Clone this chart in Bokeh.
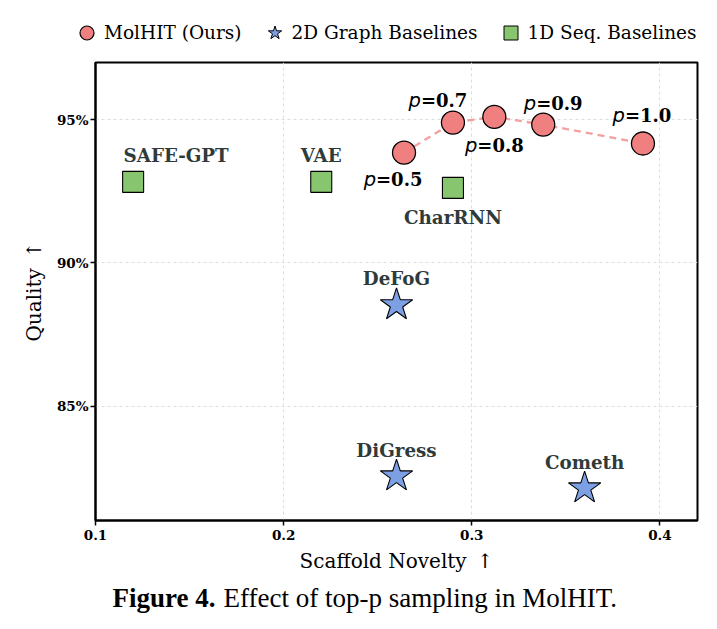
from bokeh.plotting import figure
from bokeh.layouts import column, row
from bokeh.models import (Range1d, FixedTicker, PrintfTickFormatter, Legend, LegendItem,
                          ColumnDataSource, Label)
from bokeh.core.properties import value
from bokeh.embed import file_html
from bokeh.resources import INLINE

# ---- data ----
molhit_x = [0.264, 0.290, 0.312, 0.338, 0.391]
molhit_y = [93.85, 94.90, 95.10, 94.83, 94.17]
molhit_p = ["0.5", "0.7", "0.8", "0.9", "1.0"]

graph_names = ["DeFoG", "DiGress", "Cometh"]
graph_x = [0.260, 0.260, 0.360]
graph_y = [88.53, 82.55, 82.13]

seq_names = ["SAFE-GPT", "VAE", "CharRNN"]
seq_x = [0.120, 0.220, 0.290]
seq_y = [92.83, 92.83, 92.62]

x_ticks = [0.1, 0.2, 0.3, 0.4]
y_ticks = [85, 90, 95]

# ---- styling (label offsets in screen pixels) ----
p_dx = [-28, -32, -17, -7, -18]
p_dy = [27, -22, 29, -21, -28]
graph_dx = [0, 0, 0]
graph_dy = [-26, -26, -26]
seq_dx = [43, 0, 0]
seq_dy = [-26, -26, 30]

SERIF = "DejaVu Serif"
RED = "#F08080"
BLUE = "#7DA0E4"
GREEN = "#88C56F"
NAMECOL = "#2F3B3B"

X0, X1, Y0, Y1 = 0.1, 0.42, 81, 97
FW, FH = 602, 458
W = 717

# ================= main plot =================
p = figure(frame_width=FW, frame_height=FH, output_backend="svg", toolbar_location=None,
           x_range=Range1d(X0, X1), y_range=Range1d(Y0, Y1),
           min_border_left=95, min_border_right=20, min_border_top=2,
           min_border_bottom=58)

p.outline_line_color = "black"
p.outline_line_width = 2

for g in (p.xgrid, p.ygrid):
    g.grid_line_color = "#dddddd"
    g.grid_line_dash = "3 3"
    g.grid_line_width = 1
p.xgrid.ticker = FixedTicker(ticks=x_ticks)
p.ygrid.ticker = FixedTicker(ticks=y_ticks)

p.xaxis.ticker = FixedTicker(ticks=x_ticks)
p.yaxis.ticker = FixedTicker(ticks=y_ticks)
p.yaxis.formatter = PrintfTickFormatter(format="%d%%")
for ax in (p.xaxis, p.yaxis):
    ax.axis_line_width = 2
    ax.axis_line_color = "black"
    ax.major_tick_line_width = 1.5
    ax.major_tick_out = 5
    ax.major_tick_in = 0
    ax.minor_tick_line_color = None
    ax.major_label_text_font = SERIF
    ax.major_label_text_font_style = "bold"
    ax.major_label_text_font_size = "13.5px"
    ax.major_label_text_color = "black"
    ax.axis_label_text_font = SERIF
    ax.axis_label_text_font_style = "normal"
    ax.axis_label_text_font_size = "20px"
    ax.axis_label_text_color = "black"
p.xaxis.axis_label = "Scaffold Novelty\u2002\u2191"
p.yaxis.axis_label = "Quality\u2002\u2191"
p.xaxis.major_label_standoff = 4
p.yaxis.major_label_standoff = 2
p.xaxis.axis_label_standoff = 6
p.yaxis.axis_label_standoff = 8

p.line(molhit_x, molhit_y, line_color=RED, line_width=2.3, line_dash="7 5", line_alpha=0.75)
r_mol = p.scatter(molhit_x, molhit_y, marker="circle", size=23, fill_color=RED,
                  line_color="black", line_width=1.3)
r_graph = p.scatter(graph_x, graph_y, marker="star", size=34, fill_color=BLUE,
                    line_color="black", line_width=1.1)
r_seq = p.scatter(seq_x, seq_y, marker="square", size=21, fill_color=GREEN,
                  line_color="black", line_width=1.1)

psrc = ColumnDataSource(dict(x=molhit_x, y=molhit_y, t=["=" + v for v in molhit_p],
                             pp=["p"] * len(molhit_p), dx=p_dx, dy=p_dy))
p.text(x="x", y="y", text="pp", x_offset="dx", y_offset="dy", source=psrc,
       text_font=value("DejaVu Sans"), text_font_style="italic", text_font_size="19.5px",
       text_align="right", text_baseline="middle", text_color="black")
p.text(x="x", y="y", text="t", x_offset="dx", y_offset="dy", source=psrc,
       text_font=value(SERIF), text_font_style="bold", text_font_size="18px",
       text_align="left", text_baseline="middle", text_color="black")

gsrc = ColumnDataSource(dict(x=graph_x, y=graph_y, t=graph_names, dx=graph_dx, dy=graph_dy))
ssrc = ColumnDataSource(dict(x=seq_x, y=seq_y, t=seq_names, dx=seq_dx, dy=seq_dy))
for src in (gsrc, ssrc):
    p.text(x="x", y="y", text="t", x_offset="dx", y_offset="dy", source=src,
           text_font=value(SERIF), text_font_style="bold", text_font_size="18.3px",
           text_align="center", text_baseline="middle", text_color=NAMECOL)

# ================= legend strip =================
lg = figure(width=W, height=60, output_backend="svg", toolbar_location=None,
            x_range=Range1d(0, 1), y_range=Range1d(0, 1),
            x_axis_type=None, y_axis_type=None, min_border=0)
lg.outline_line_color = None
lg.xgrid.visible = False
lg.ygrid.visible = False
nan = float("nan")
k_mol = lg.scatter([nan], [nan], marker="circle",
                   fill_color=RED, line_color="black", line_width=1.2)
k_graph = lg.scatter([nan], [nan], marker="star",
                     fill_color=BLUE, line_color="black", line_width=1.0)
k_seq = lg.scatter([nan], [nan], marker="square",
                   fill_color=GREEN, line_color="black", line_width=1.0)
legend = Legend(items=[LegendItem(label="MolHIT (Ours)", renderers=[k_mol]),
                       LegendItem(label="2D Graph Baselines", renderers=[k_graph]),
                       LegendItem(label="1D Seq. Baselines", renderers=[k_seq])],
                orientation="horizontal", location=(69, 10),
                border_line_color=None, background_fill_alpha=0,
                label_text_font=SERIF, label_text_font_size="18.5px",
                label_text_color="black", glyph_width=35, glyph_height=35,
                spacing=15, label_standoff=0, padding=0, margin=0)
lg.add_layout(legend, "center")

# ================= caption strip =================
cap = figure(width=W, height=49, output_backend="svg", toolbar_location=None,
             x_range=Range1d(0, 1), y_range=Range1d(0, 1),
             x_axis_type=None, y_axis_type=None, min_border=0)
cap.outline_line_color = None
cap.xgrid.visible = False
cap.ygrid.visible = False
cap.add_layout(Label(x=17, y=30, x_units="screen", y_units="screen", text="Figure 4.",
                     text_font="Liberation Serif", text_font_style="bold",
                     text_font_size="27px", text_color="black", text_baseline="alphabetic"))
cap.add_layout(Label(x=128, y=30, x_units="screen", y_units="screen",
                     text="Effect of top-p sampling in MolHIT.",
                     text_font="Liberation Serif", text_font_size="27px",
                     text_color="black", text_baseline="alphabetic"))

layout = column(row(lg), p, cap, spacing=0)
open("out.html", "w").write(file_html(layout, INLINE))
